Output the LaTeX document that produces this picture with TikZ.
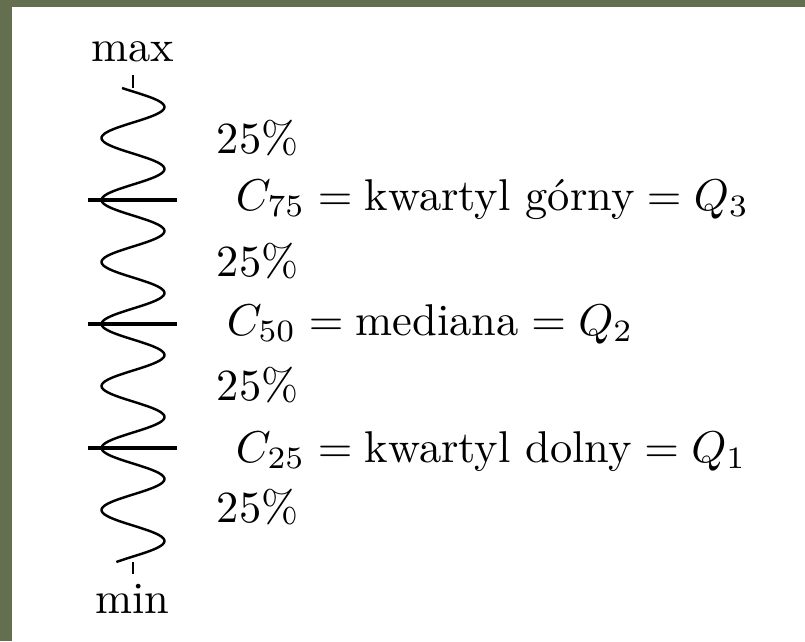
\documentclass[tikz,border=0pt]{standalone}
\definecolor{frame}{RGB}{99,111,79}
\tikzset{
  wave/.style={line width=0.55pt},
  qline/.style={line width=0.75pt},
  lbl/.style={inner sep=0pt, anchor=base west},
  endlbl/.style={inner sep=0pt, anchor=base}
}
\begin{document}
\begin{tikzpicture}[x=0.2247pt, y=-0.2247pt]
\useasboundingbox (0,0) rectangle (805,641);
\fill[white] (0,0) rectangle (805,641);
\fill[frame] (0,0) rectangle (805,7);
\fill[frame] (0,0) rectangle (12,641);
% wave
\draw[wave, line join=round] plot[domain=88:562, samples=300, smooth] ({133+31.5*sin(5.80645*(\x-91.5))}, \x);
% end ticks
\coordinate (ttop) at (133,75);
\coordinate (tbot) at (133,88);
\coordinate (btop) at (133,562);
\coordinate (bbot) at (133,574);
\draw[wave] (ttop) -- (tbot);
\draw[wave] (btop) -- (bbot);
% quartile lines
\coordinate (q3a) at (88,200); \coordinate (q3b) at (177,200);
\coordinate (q2a) at (88,324); \coordinate (q2b) at (177,324);
\coordinate (q1a) at (88,448); \coordinate (q1b) at (177,448);
\draw[qline] (q3a) -- (q3b);
\draw[qline] (q2a) -- (q2b);
\draw[qline] (q1a) -- (q1b);
% labels
\node[endlbl] (max) at (133,61) {max};
\node[endlbl] (min) at (132.5,613) {min};
\node[lbl] (p4) at (216,153) {25\%};
\node[lbl] (p3) at (216,276.5) {25\%};
\node[lbl] (p2) at (216,400) {25\%};
\node[lbl] (p1) at (216,522) {25\%};
\node[lbl] (c75) at (235,210) {$C_{75} = \mbox{kwartyl górny} = Q_3$};
\node[lbl] (c50) at (226,335) {$C_{50} = \mbox{mediana} = Q_2$};
\node[lbl] (c25) at (235,462) {$C_{25} = \mbox{kwartyl dolny} = Q_1$};
\end{tikzpicture}
\end{document}
